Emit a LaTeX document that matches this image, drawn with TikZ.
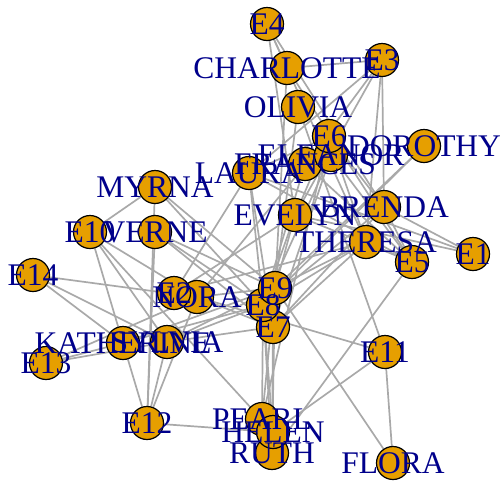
\documentclass[tikz,border=0pt]{standalone}
\usepackage{fontspec}
\setmainfont{Liberation Serif}
\definecolor{sworange}{RGB}{230,159,0}
\definecolor{swblue}{RGB}{0,0,139}
\definecolor{swgrey}{RGB}{169,169,169}
\pgfdeclarelayer{edges}
\pgfsetlayers{edges,main}

% women first, then events (drawing order)
\def\vertlist{evelyn/295/215/EVELYN, laura/249/173/LAURA, theresa/366/242/THERESA,
  brenda/384/207/BRENDA, charlotte/287/68/CHARLOTTE, frances/305/164/FRANCES,
  eleanor/331/155/ELEANOR, pearl/262/419/PEARL, ruth/272/453/RUTH,
  verne/155/232/VERNE, myrna/155/187/MYRNA, katherine/123/343/KATHERINE,
  sylvia/167/342/SYLVIA, nora/197/297/NORA, helen/273/432/HELEN,
  dorothy/424/146/DOROTHY, olivia/298/107/OLIVIA, flora/393/463/FLORA,
  e1/473/254/E1, e2/174/293/E2, e3/382/60/E3, e4/267/24/E4, e5/412/262/E5,
  e6/329/136/E6, e7/273/327/E7, e8/263/305/E8, e9/275/288/E9, e10/90/232/E10,
  e11/385/352/E11, e12/147/423/E12, e13/46/363/E13, e14/33/275/E14}

\begin{document}
\begin{tikzpicture}[x=1pt,y=-1pt,
    vtx/.style={draw,circle,fill=sworange,line width=1.2pt,minimum size=33pt,inner sep=0pt},
    tag/.style={text=swblue,font=\fontsize{31.5}{32}\selectfont,inner sep=0pt},
    tie/.style={draw=swgrey,line width=1.7pt}]
  \useasboundingbox (0,0) rectangle (502,480);
  \foreach \n/\x/\y/\t in \vertlist
    \node[vtx] (\n) at (\x,\y) {};
  \begin{pgfonlayer}{edges}
    \foreach \w in {evelyn,laura,brenda} \draw[tie] (e1)--(\w);
    \foreach \w in {evelyn,laura,theresa} \draw[tie] (e2)--(\w);
    \foreach \w in {evelyn,laura,theresa,brenda,charlotte,frances} \draw[tie] (e3)--(\w);
    \foreach \w in {evelyn,theresa,brenda,charlotte} \draw[tie] (e4)--(\w);
    \foreach \w in {evelyn,laura,theresa,brenda,charlotte,frances,eleanor,ruth} \draw[tie] (e5)--(\w);
    \foreach \w in {evelyn,laura,theresa,brenda,frances,eleanor,pearl,nora} \draw[tie] (e6)--(\w);
    \foreach \w in {laura,theresa,brenda,charlotte,eleanor,ruth,verne,sylvia,nora,helen} \draw[tie] (e7)--(\w);
    \foreach \w in {evelyn,laura,theresa,brenda,frances,eleanor,pearl,ruth,verne,myrna,katherine,sylvia,helen,dorothy} \draw[tie] (e8)--(\w);
    \foreach \w in {evelyn,theresa,pearl,ruth,verne,myrna,katherine,sylvia,nora,dorothy,olivia,flora} \draw[tie] (e9)--(\w);
    \foreach \w in {myrna,katherine,sylvia,nora,helen} \draw[tie] (e10)--(\w);
    \foreach \w in {nora,helen,olivia,flora} \draw[tie] (e11)--(\w);
    \foreach \w in {verne,myrna,katherine,sylvia,nora,helen} \draw[tie] (e12)--(\w);
    \foreach \w in {katherine,sylvia,nora} \draw[tie] (e13)--(\w);
    \foreach \w in {katherine,sylvia,nora} \draw[tie] (e14)--(\w);
  \end{pgfonlayer}
  % labels above every circle
  \foreach \n/\x/\y/\t in \vertlist
    \node[tag] at (\n) {\t};
\end{tikzpicture}
\end{document}
